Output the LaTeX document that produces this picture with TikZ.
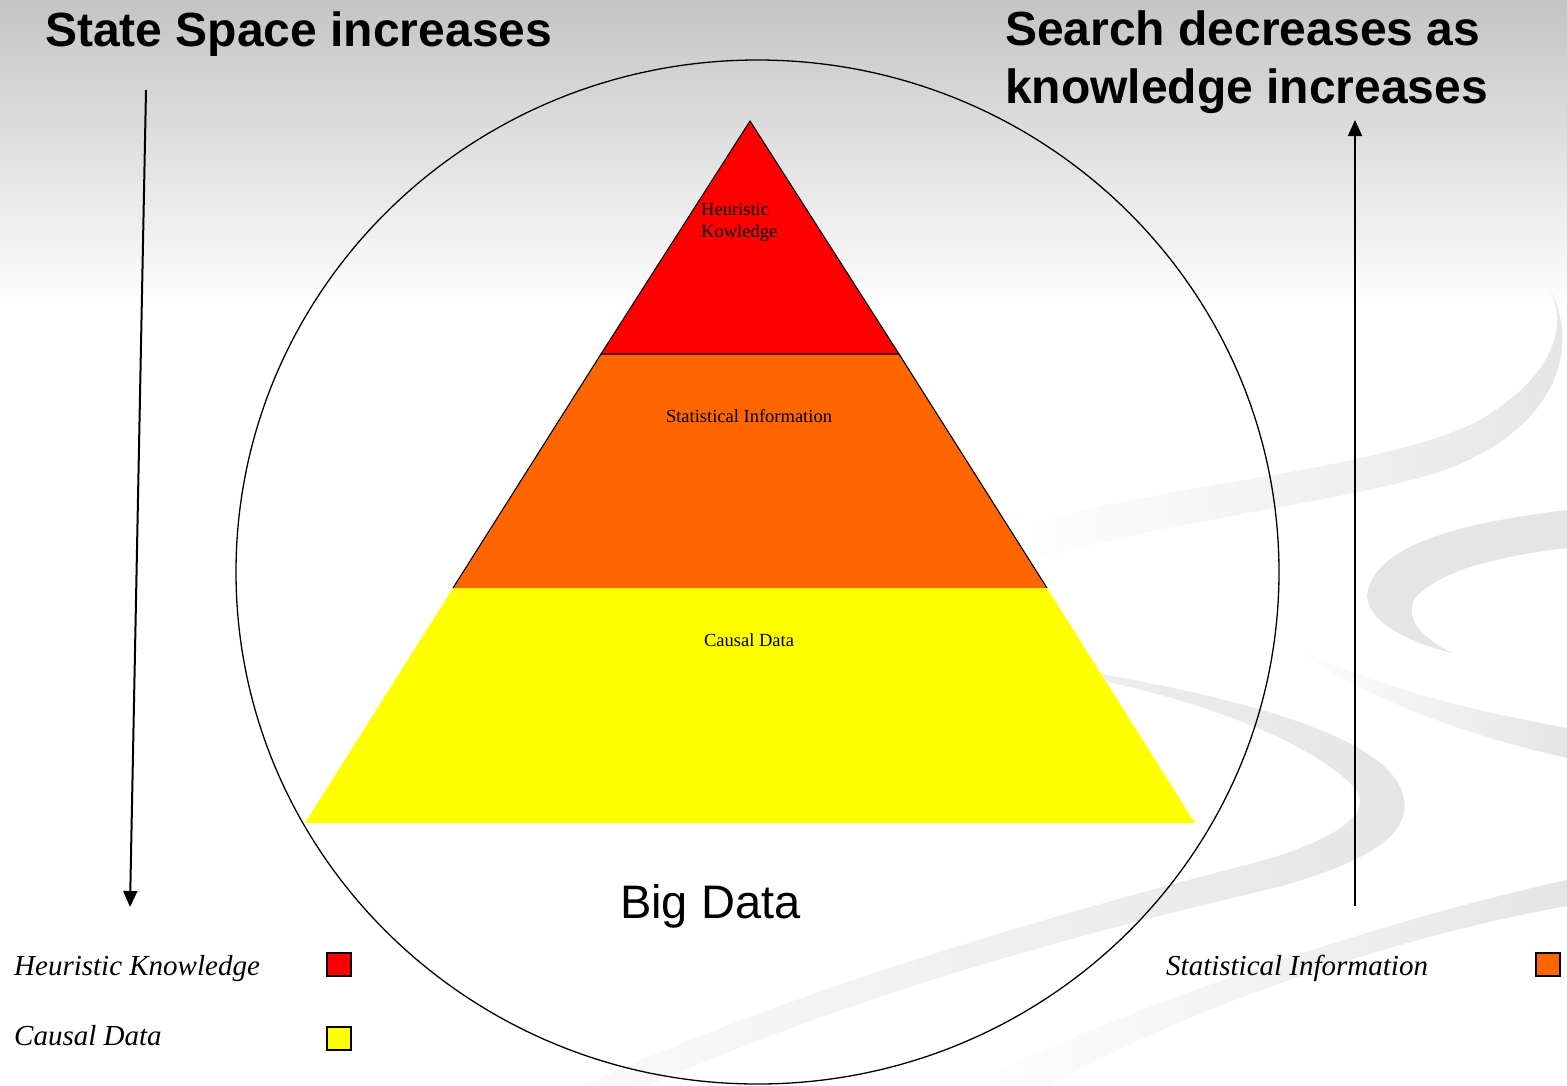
\documentclass[tikz,border=0pt]{standalone}
\usepackage{fontspec}
\setmainfont{Liberation Serif}
\newfontfamily\arialfont{Liberation Sans}
\usetikzlibrary{arrows.meta}
\definecolor{pyrred}{HTML}{FF0000}
\definecolor{pyrorange}{HTML}{FF6600}
\definecolor{pyryellow}{HTML}{FFFF00}
\definecolor{swoosh}{HTML}{E5E5E5}
\tikzset{
  titletext/.style={font=\arialfont\bfseries\fontsize{48}{58}\selectfont, anchor=base west, inner sep=0pt},
  bigtext/.style={font=\arialfont\fontsize{47}{56}\selectfont, anchor=base west, inner sep=0pt},
  layerlabel/.style={font=\fontsize{18.5}{22}\selectfont, inner sep=0pt},
  legendtext/.style={font=\itshape\fontsize{29}{34}\selectfont, anchor=base west, inner sep=0pt},
  legendbox/.style={draw=black, line width=1.6pt, minimum width=24pt, minimum height=23pt, inner sep=0pt},
  bigarrow/.style={line width=2pt, -{Triangle[length=16pt,width=14pt]}},
  outline/.style={draw=black, line width=1.1pt},
  band/.style={draw=none}
}
\begin{document}
\begin{tikzpicture}[x=1pt,y=-1pt]
\useasboundingbox (0,0) rectangle (1567,1085);
\clip (0,0) rectangle (1567,1085);
% background
\fill[white] (0,0) rectangle (1567,1085);
\shade[top color=black!23, bottom color=white] (0,0) rectangle (1567,310);
% swooshes
\shade[band, left color=white, right color=swoosh] (1000,532) .. controls (1150,484) and (1380,472) .. (1480,420) .. controls (1560,372) and (1566,322) .. (1550,290) .. controls (1578,340) and (1565,425) .. (1445,470) .. controls (1350,502) and (1150,522) .. (1020,565) -- cycle;
\fill[band, swoosh] (1567,510) .. controls (1450,524) and (1372,548) .. (1367,596) .. controls (1368,626) and (1420,645) .. (1452,653) .. controls (1418,636) and (1405,616) .. (1415,598) .. controls (1440,570) and (1500,556) .. (1567,548) -- cycle;
\shade[band, left color=white, right color=swoosh] (1283,642) .. controls (1380,690) and (1480,712) .. (1567,728) -- (1567,758) .. controls (1470,736) and (1370,702) .. (1283,642) -- cycle;
\shade[band, left color=white!80!swoosh, right color=swoosh] (1095,673) .. controls (1250,700) and (1385,738) .. (1402,792) .. controls (1416,832) and (1372,860) .. (1282,886) .. controls (1150,918) and (900,975) .. (650,1085) -- (585,1085) .. controls (800,985) and (1100,902) .. (1250,864) .. controls (1340,840) and (1372,812) .. (1356,790) .. controls (1332,760) and (1250,712) .. (1095,679) -- cycle;
\shade[band, left color=white, right color=swoosh] (1567,880) .. controls (1450,905) and (1200,975) .. (965,1085) -- (1050,1085) .. controls (1200,1002) and (1400,936) .. (1567,906) -- cycle;
% big ellipse
\draw[line width=1.3pt] (757.5,572) ellipse [x radius=521.5, y radius=512];
% pyramid
\coordinate (apex) at (750,121);
\coordinate (rl) at (601,354);
\coordinate (rr) at (899,354);
\coordinate (ol) at (453,588);
\coordinate (or) at (1047,588);
\coordinate (bl) at (305,823);
\coordinate (br) at (1195,823);
\fill[pyryellow] (ol) -- (or) -- (br) -- (bl) -- cycle;
\fill[pyrorange] (rl) -- (rr) -- (or) -- (ol) -- cycle;
\draw[outline] (ol) -- (rl) (rr) -- (or);
\fill[pyrred] (apex) -- (rr) -- (rl) -- cycle;
\draw[outline] (apex) -- (rr) -- (rl) -- cycle;
\node[layerlabel, anchor=north west, align=left] (lblheur) at (701,203.5) {Heuristic\\Kowledge};
\node[layerlabel, anchor=base] (lblstat) at (749,422) {Statistical Information};
\node[layerlabel, anchor=base] (lblcaus) at (749,646) {Causal Data};
% arrows
\coordinate (ltop) at (146,90);
\coordinate (lbot) at (130,907);
\draw[bigarrow] (ltop) -- (lbot);
\coordinate (rbot) at (1355,906);
\coordinate (rtop) at (1355,120);
\draw[bigarrow] (rbot) -- (rtop);
% titles
\node[titletext] (tleft) at (45,46) {State Space increases};
\node[titletext] (tright1) at (1005,45) {Search decreases as};
\node[titletext] (tright2) at (1005,103) {knowledge increases};
\node[bigtext] (bigdata) at (620,918) {Big Data};
% legend
\node[legendtext] (lgheur) at (14,975) {Heuristic Knowledge};
\node[legendtext] (lgcaus) at (14,1045) {Causal Data};
\node[legendtext] (lgstat) at (1166,975) {Statistical Information};
\node[legendbox, fill=pyrred] (boxred) at (339,964.5) {};
\node[legendbox, fill=pyryellow] (boxyel) at (339,1038.5) {};
\node[legendbox, fill=pyrorange] (boxora) at (1548,964.5) {};
\end{tikzpicture}
\end{document}
